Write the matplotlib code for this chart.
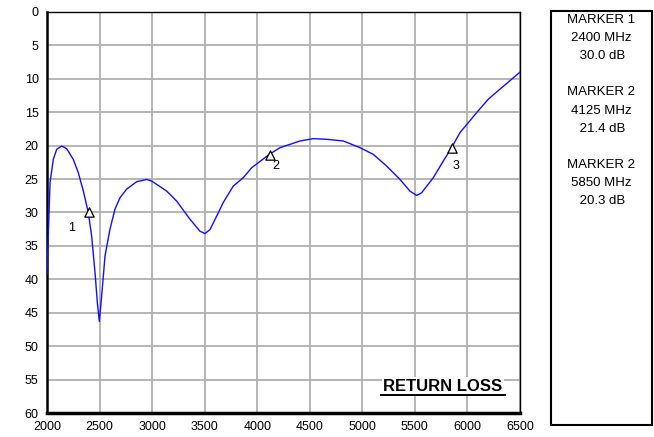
import matplotlib
matplotlib.use("Agg")
import matplotlib.pyplot as plt
from matplotlib.patches import Rectangle

plt.rcParams['font.family'] = ['Liberation Sans', 'DejaVu Sans']

freq_mhz = [2000, 2029, 2060, 2092, 2140, 2187, 2250, 2298, 2346, 2393, 2425, 2457, 2479, 2498,
            2520, 2552, 2599, 2647, 2694, 2758, 2853, 2948, 2996, 3044, 3139, 3234, 3360, 3455,
            3503, 3551, 3614, 3677, 3772, 3867, 3947, 4074, 4115, 4217, 4312, 4407, 4533, 4661,
            4819, 4978, 5104, 5231, 5358, 5453, 5517, 5564, 5675, 5770, 5840, 5929, 6088, 6198,
            6309, 6500]
return_loss_db = [39.3, 25.5, 22.05, 20.55, 20.05, 20.45, 22.05, 24.05, 26.8, 30.0, 33.55, 39.0,
                  43.5, 46.3, 42.5, 36.5, 32.5, 29.5, 27.8, 26.5, 25.4, 25.05, 25.3, 25.8, 26.8,
                  28.3, 31.0, 32.8, 33.15, 32.55, 30.55, 28.5, 26.05, 24.8, 23.3, 21.8, 21.3, 20.3,
                  19.8, 19.3, 18.95, 19.05, 19.3, 20.3, 21.3, 23.05, 25.05, 26.8, 27.45, 27.05,
                  24.8, 22.3, 20.55, 18.05, 15.05, 13.05, 11.55, 9.0]

marker_ids = ["1", "2", "3"]
marker_freq = [2400, 4125, 5850]
marker_db = [30.0, 21.4, 20.3]
box_lines = ["MARKER 1", "2400 MHz", " 30.0 dB", "",
             "MARKER 2", "4125 MHz", " 21.4 dB", "",
             "MARKER 2", "5850 MHz", " 20.3 dB"]

x_ticks = list(range(2000, 6501, 500))
y_ticks = list(range(0, 61, 5))

fig = plt.figure(figsize=(6.54, 4.37), dpi=100)
ax = fig.add_axes([47/654, 1 - 413/437, (520 - 47)/654, (413 - 12)/437])

ax.plot(freq_mhz, return_loss_db, color='#1010ff', lw=1.0, zorder=3)
ax.set_xlim(2000, 6500)
ax.set_ylim(60, 0)
ax.set_xticks(x_ticks)
ax.set_yticks(y_ticks)
ax.tick_params(length=0, labelsize=9, pad=6)
ax.grid(True, color='#b0b0b0', lw=1.3)
ax.set_axisbelow(True)
ax.spines['left'].set_linewidth(1.8)
ax.spines['bottom'].set_linewidth(2.5)
ax.spines['top'].set_linewidth(1.0)
ax.spines['right'].set_linewidth(1.0)

ax.scatter(marker_freq, marker_db, marker='^', s=45, facecolor='white',
           edgecolor='black', linewidth=0.9, zorder=4)
offsets = [(-162, 2.3), (55, 1.7), (45, 2.8)]
for mid, f, d, (dx, dy) in zip(marker_ids, marker_freq, marker_db, offsets):
    ax.text(f + dx, d + dy, mid, fontsize=9, ha='center', va='center', zorder=5)

ax.text(5767, 56.0, "RETURN LOSS", fontsize=12, fontweight='bold',
        ha='center', va='center', zorder=5,
        bbox=dict(facecolor='white', edgecolor='none', pad=1.0))
ax.plot([5177, 6357], [57.25, 57.25], color='black', lw=1.4, zorder=6)

box = Rectangle((551/654, 1 - 425/437), (652 - 551)/654, (425 - 11)/437,
                transform=fig.transFigure, facecolor='white', edgecolor='black', lw=1.5)
fig.add_artist(box)

y0 = 20
for i, line in enumerate(box_lines):
    if line:
        fig.text(601/654, 1 - (y0 + i * 18.1)/437, line, fontsize=9.5,
                 ha='center', va='center')

fig.savefig("out.png", dpi=100)
